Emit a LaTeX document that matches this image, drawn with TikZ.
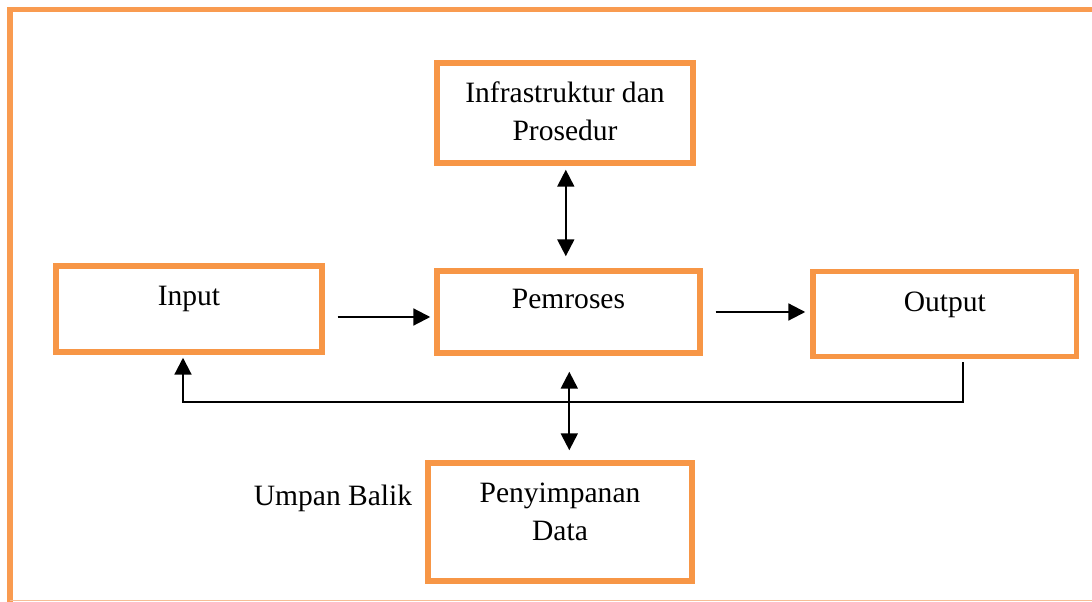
\documentclass[tikz,border=0pt]{standalone}
\usepackage{fontspec}
\setmainfont{Liberation Serif}
\usepackage{xcolor}
\usetikzlibrary{
    arrows.meta,
    positioning,
    calc
  }
\definecolor{boxcolor}{RGB}{247,150,70}
\definecolor{framecolor}{RGB}{249,155,80}
\definecolor{framelight}{RGB}{246,190,150}
\tikzset{
  block/.style={draw=boxcolor, line width=3.9pt, fill=white},
  blocktext/.style={anchor=north, inner sep=0pt, align=center, font=\fontsize{21}{27}\selectfont},
  link/.style={draw=black, line width=1.5pt},
  onearrow/.style={-{Triangle[length=0.42cm,width=0.42cm]}},
  twoarrow/.style={{Triangle[length=0.42cm,width=0.42cm]}-{Triangle[length=0.42cm,width=0.42cm]}}
}

\begin{document}
\begin{tikzpicture}[x=1cm, y=-1cm]

\useasboundingbox (0,0) rectangle (27.3,15.05);

\path[draw,framecolor,line width=3.8pt]
  (28,0.24) -- (0.25,0.24) -- (0.25,15.3)
;
\path[draw,framelight,line width=1pt]
  (0.25,15.01) -- (28,15.01)
;

\path[]
  (14.125,2.825) node[block, minimum width=6.4cm, minimum height=2.5cm,
    label={[blocktext,yshift=-0.53cm]north:Infrastruktur dan\\Prosedur}] (infra) {}
;
\path[]
  (4.725,7.725) node[block, minimum width=6.65cm, minimum height=2.15cm,
    label={[blocktext,yshift=-0.57cm]north:Input}] (input) {}
;
\path[]
  (14.2125,7.8) node[block, minimum width=6.575cm, minimum height=2.05cm,
    label={[blocktext,yshift=-0.51cm]north:Pemroses}] (pemroses) {}
;
\path[]
  (23.62,7.85) node[block, minimum width=6.59cm, minimum height=2.125cm,
    label={[blocktext,yshift=-0.57cm]north:Output}] (output) {}
;
\path[]
  (14.0,13.05) node[block, minimum width=6.6cm, minimum height=2.95cm,
    label={[blocktext,yshift=-0.55cm]north:Penyimpanan\\Data}] (storage) {}
;
\path[]
  (8.325,12.45) node[font=\fontsize{21}{27}\selectfont] (umpan) {Umpan Balik}
;

\path[link,twoarrow,shorten <=0.1cm,shorten >=0.3cm]
  ([xshift=0.02cm]infra.south) -- ([xshift=0.02cm]infra.south |- pemroses.north)
;
\path[link,onearrow,shorten <=0.325cm,shorten >=0.1cm]
  ([yshift=-0.2cm]input.east) -- ([yshift=-0.2cm]input.east -| pemroses.west)
;
\path[link,onearrow,shorten <=0.325cm,shorten >=0.125cm]
  (pemroses.east) -- (pemroses.east -| output.west)
;
\path[link,twoarrow,shorten <=0.4cm,shorten >=0.25cm]
  ([xshift=0.02cm]pemroses.south) -- ([xshift=0.02cm]pemroses.south |- storage.north)
;
\path[link,onearrow,shorten >=0.075cm]
  ([xshift=0.45cm,yshift=-0.075cm]output.south) -- ++(0,1.0) coordinate (feedback)
    -| ([xshift=-0.15cm]input.south)
;

\end{tikzpicture}
\end{document}
